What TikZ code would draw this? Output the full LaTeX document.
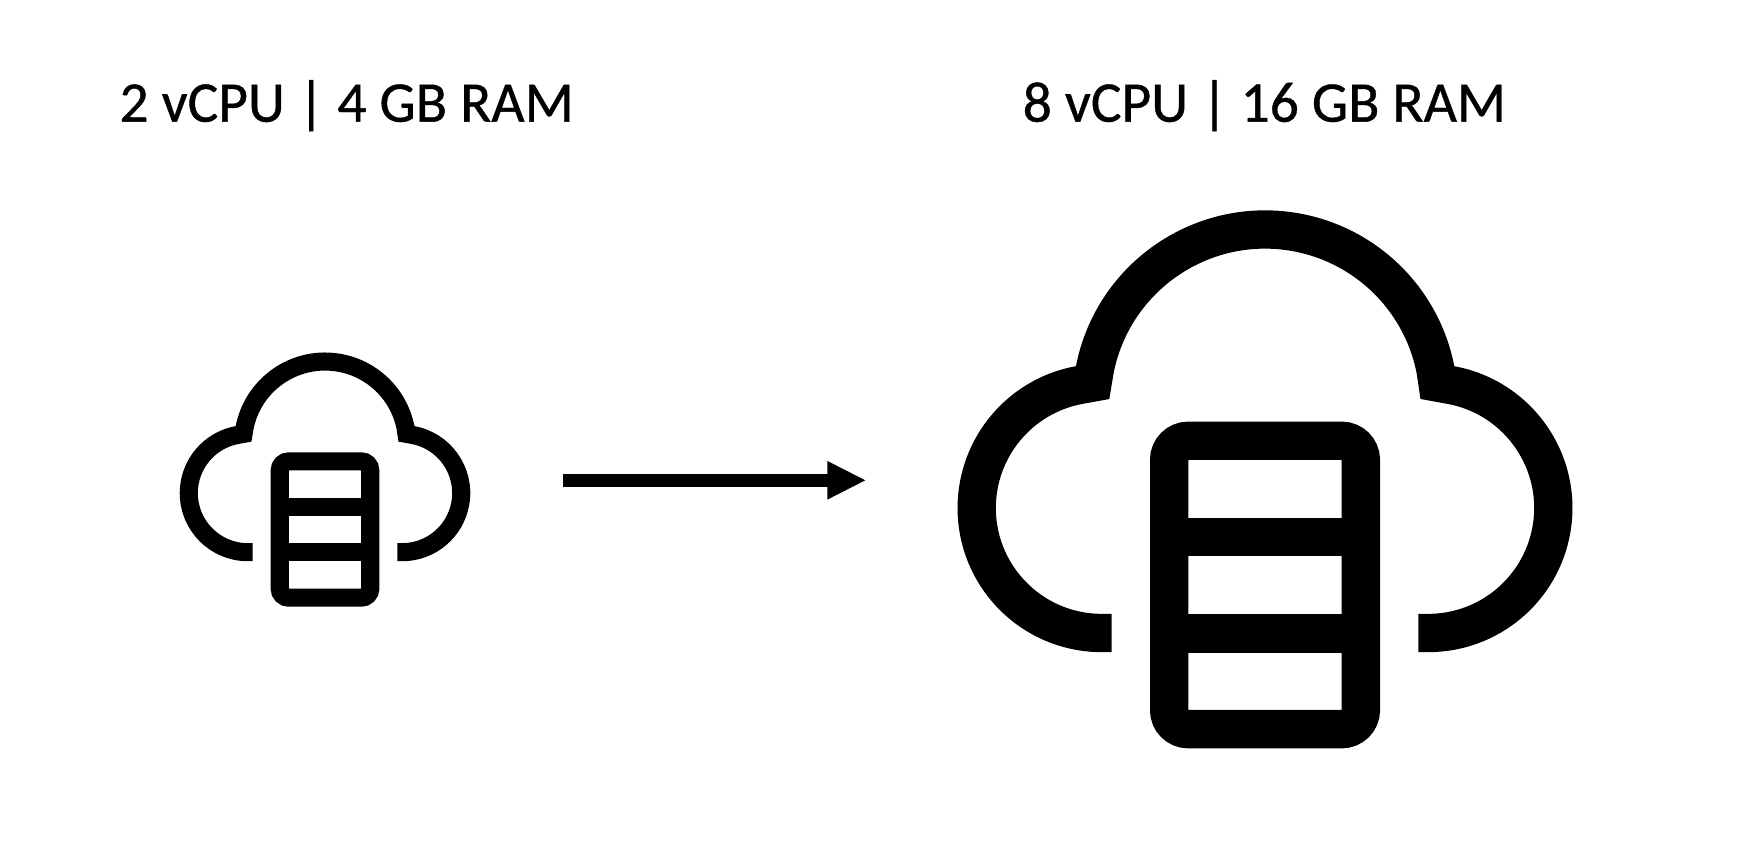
\documentclass[tikz,border=0pt]{standalone}
\usepackage{fontspec}
\setmainfont{Carlito}
\newfontfamily\capfont[FakeBold=0.7]{Carlito}
\usetikzlibrary{arrows.meta}
\newcommand{\servercloud}[3]{%
  \begin{scope}[shift={(#1,#2)},scale=#3,line width=#3*38.3pt,line join=miter,line cap=butt,miter limit=10]
    \draw (-153.3,-33) -- (-163.3,-33)
      arc[start angle=270,end angle=100,radius=125]
      -- (-172.4,217.4) -- (-170.3,230)
      arc[start angle=169,end angle=11,radius=173.6]
      -- (172.4,217.4) -- (185,215.1)
      arc[start angle=80,end angle=-90,radius=125]
      -- (153.3,-33);
    \draw[rounded corners=#3*19pt] (-95.85,-129.15) rectangle (95.85,159.15);
    \draw (-95.85,62.85) -- (95.85,62.85);
    \draw (-95.85,-33.45) -- (95.85,-33.45);
  \end{scope}}
\tikzset{
  caption/.style={font=\capfont\fontsize{57.5pt}{57.5pt}\selectfont,inner sep=0pt,anchor=base,text=black},
  bigarrow/.style={line width=12.7pt,line cap=rect,-{Triangle[length=38pt,width=38.7pt,line width=0pt]}}
}
\begin{document}
\begin{tikzpicture}[x=1pt,y=1pt]
  \useasboundingbox (0,0) rectangle (1754,854);
  \fill[white] (0,0) rectangle (1754,854);
  \node[caption] (lefttext) at (346.6,732.3) {2 vCPU | 4 GB RAM};
  \node[caption] (righttext) at (1264.4,732.3) {8 vCPU | 16 GB RAM};
  \servercloud{325}{317.4}{0.4725}
  \servercloud{1265}{254}{1}
  \coordinate (arrowstart) at (569.65,373.7);
  \coordinate (arrowend) at (865.3,373.7);
  \draw[bigarrow] (arrowstart) -- (arrowend);
\end{tikzpicture}
\end{document}
